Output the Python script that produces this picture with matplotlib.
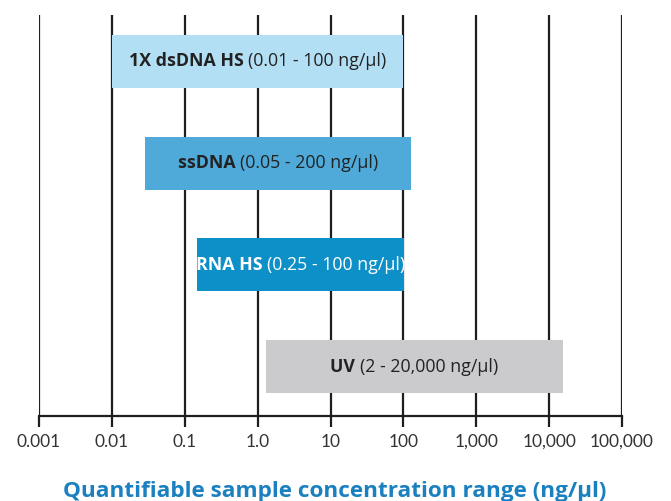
import numpy as np
import matplotlib as mplt
mplt.use('Agg')
import matplotlib.pyplot as plt

mplt.rcParams['font.family'] = ['Lato', 'DejaVu Sans']

# data (ng/ul, log axis)
names = ['1X dsDNA HS', 'ssDNA', 'RNA HS', 'UV']
ranges = ['(0.01 - 100 ng/µl)', '(0.05 - 200 ng/µl)', '(0.25 - 100 ng/µl)', '(2 - 20,000 ng/µl)']
starts = [0.01, 0.0284, 0.147, 1.30]
ends = [100, 127, 101, 15400]
colors = ['#b3dff5', '#4faad9', '#0d8fc7', '#cbcbcd']
txtcol = ['#222222', '#222222', '#ffffff', '#222222']
ticks = [0.001, 0.01, 0.1, 1, 10, 100, 1000, 10000, 100000]
ticklabels = ['0.001', '0.01', '0.1', '1.0', '10', '100', '1,000', '10,000', '100,000']

lblfont = ['Open Sans', 'DejaVu Sans']
lblsize = 12.8

fig = plt.figure(figsize=(6.71, 5.01), dpi=100)
ax = fig.add_axes([39/671, 1-416/501, (622-39)/671, (416-15)/501])
ax.set_xscale('log')
ax.set_xlim(0.001, 100000)
ax.set_ylim(-0.485, 3.456)

ypos = [3, 2, 1, 0]
fig.canvas.draw()
r = fig.canvas.get_renderer()
for i in range(len(names)):
    ax.barh(ypos[i], ends[i]-starts[i], left=starts[i], height=0.52, color=colors[i], zorder=3)
    xc = np.sqrt(starts[i]*ends[i])
    # measure both pieces: bold name + regular range
    t1 = ax.text(xc, ypos[i], names[i] + ' ', fontsize=lblsize, fontweight='bold', family=lblfont)
    t2 = ax.text(xc, ypos[i], ranges[i], fontsize=lblsize, family=lblfont)
    w1 = t1.get_window_extent(r).width
    w2 = t2.get_window_extent(r).width
    t1.remove(); t2.remove()
    tot = w1 + w2
    ax.annotate(names[i] + ' ', xy=(xc, ypos[i]), xytext=(-tot/2, 0), textcoords='offset pixels',
                ha='left', va='center', fontsize=lblsize, fontweight='bold', family=lblfont,
                color=txtcol[i], zorder=4)
    ax.annotate(ranges[i], xy=(xc, ypos[i]), xytext=(-tot/2 + w1, 0), textcoords='offset pixels',
                ha='left', va='center', fontsize=lblsize, family=lblfont, color=txtcol[i], zorder=4)

for t in ticks:
    ax.axvline(t, color='#1e1e1e', lw=1.6, zorder=1)

ax.set_xticks(ticks)
ax.set_xticklabels(ticklabels, fontsize=12.5, color='#333333')
ax.minorticks_off()
ax.tick_params(axis='x', length=8, width=1.6, color='#1e1e1e', pad=5)
ax.set_yticks([])
for s in ['top', 'left', 'right']:
    ax.spines[s].set_visible(False)
ax.spines['bottom'].set_color('#1e1e1e')
ax.spines['bottom'].set_linewidth(1.6)

fig.text(335/671, 0.019, 'Quantifiable sample concentration range (ng/µl)',
         ha='center', va='center', fontsize=16.2, fontweight='bold', family=lblfont, color='#1a80c0')

plt.savefig('out.png', dpi=100)
